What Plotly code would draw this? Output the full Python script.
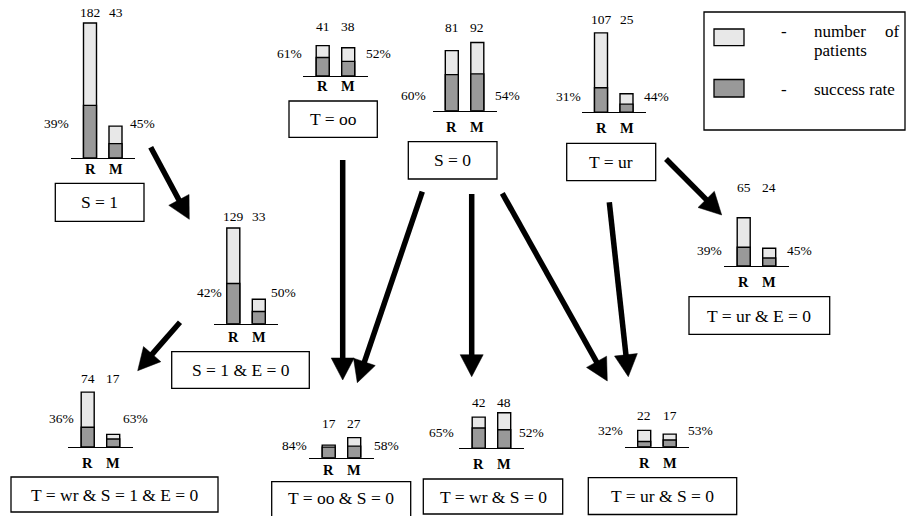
import math
import plotly.graph_objects as go

# ---------------- data ----------------
CATEGORIES = ["R", "M"]
NODE_LABELS = [
    "S = 1", "T = oo", "S = 0", "T = ur", "S = 1 & E = 0",
    "T = ur & E = 0", "T = wr & S = 1 & E = 0", "T = oo & S = 0",
    "T = wr & S = 0", "T = ur & S = 0",
]
PATIENTS_R = [182, 41, 81, 107, 129, 65, 74, 17, 42, 22]
PATIENTS_M = [43, 38, 92, 25, 33, 24, 17, 27, 48, 17]
SUCCESS_R = [39, 61, 60, 31, 42, 39, 36, 84, 65, 32]   # percent
SUCCESS_M = [45, 52, 54, 44, 50, 45, 63, 58, 52, 53]   # percent
LEGEND_LABELS = ["number of patients", "success rate"]

# ---------------- layout (pixel positions) ----------------
W, H = 906, 516
PX_PER_PATIENT = 0.742
BAR_GAP_PX = 25.5
HALF_BASE_PX = 19.3
BAR_WIDTH = 0.51

R_CENTER = [90, 322.7, 451.8, 601, 233.3, 743.7, 87.7, 328.7, 478.7, 644.2]
BASE_Y = [158, 76, 110.7, 112.3, 323.7, 266, 447, 457.7, 448.3, 446.7]
COUNT_Y = [12.7, 26.7, 27.3, 20, 216.7, 187.3, 378.3, 423.3, 402.3, 415]
CAT_Y = [169, 86, 126.7, 128.3, 336.7, 281.7, 463.3, 470, 464, 463.3]
PCT_LEFT = [(56, 124), (289.3, 54), (413.3, 95), (568.3, 96.7), (209, 292.3),
            (709.3, 250), (61, 418.3), (294.3, 445), (441, 432.7), (610.7, 430)]
PCT_RIGHT = [(142.7, 124), (378.3, 54), (507.3, 95), (656.7, 96), (283.3, 292.3),
             (799.3, 250), (135, 418.3), (386, 445), (531.7, 432.7), (700, 430)]
BOXES = [(55.3, 183.3, 144, 221.3), (289, 101, 377.3, 137.3), (408.3, 141.7, 497, 179),
         (566.7, 143.3, 655.7, 180.7), (171.7, 351.7, 309.3, 388.3),
         (689, 296.7, 829.7, 334.3), (11, 477, 218, 512), (271.7, 481.7, 410.7, 520),
         (423.3, 479, 562.7, 514), (588.3, 477.7, 736.7, 514.5)]
ARROWS = [((150.7, 147.3), (189.3, 219.3)), ((180, 322.3), (137.7, 370.7)),
          ((342.7, 160), (342.7, 380)), ((422.3, 191.7), (357.3, 382.7)),
          ((471.7, 194), (471.7, 376.7)), ((502.3, 193.3), (607.3, 381)),
          ((609.3, 202.3), (628.3, 376.7)), ((666, 159), (721.7, 215))]

LIGHT = "#e8e8e8"
DARK = "#999999"
FONT = "Liberation Serif"


def px(x):
    return x / W


def py(y):
    return 1 - y / H


def f(size):
    return dict(family=FONT, size=size, color="black")


fig = go.Figure()
layout = dict(
    width=W, height=H, margin=dict(l=0, r=0, t=0, b=0),
    paper_bgcolor="white", plot_bgcolor="rgba(0,0,0,0)",
    barmode="overlay", showlegend=False,
    font=f(14),
)
annotations = []
shapes = []

for i in range(len(NODE_LABELS)):
    sfx = "" if i == 0 else str(i + 1)
    counts = [PATIENTS_R[i], PATIENTS_M[i]]
    success = [PATIENTS_R[i] * SUCCESS_R[i] / 100, PATIENTS_M[i] * SUCCESS_M[i] / 100]
    fig.add_trace(go.Bar(x=CATEGORIES, y=counts, width=BAR_WIDTH,
                         marker=dict(color=LIGHT, line=dict(color="black", width=1.4)),
                         xaxis="x" + sfx, yaxis="y" + sfx, hoverinfo="skip",
                         name=LEGEND_LABELS[0]))
    fig.add_trace(go.Bar(x=CATEGORIES, y=success, width=BAR_WIDTH,
                         marker=dict(color=DARK, line=dict(color="black", width=1.4)),
                         xaxis="x" + sfx, yaxis="y" + sfx, hoverinfo="skip",
                         name=LEGEND_LABELS[1]))
    rc = R_CENTER[i]
    x0 = rc - HALF_BASE_PX
    x1 = rc + BAR_GAP_PX + HALF_BASE_PX
    ymax = max(counts) + 3
    ybot = py(BASE_Y[i])
    ytop = ybot + ymax * PX_PER_PATIENT / H
    layout["xaxis" + sfx] = dict(
        domain=[px(x0), px(x1)], type="category",
        range=[-HALF_BASE_PX / BAR_GAP_PX, 1 + HALF_BASE_PX / BAR_GAP_PX],
        anchor="y" + sfx, showline=True, linecolor="black", linewidth=1.4,
        showgrid=False, zeroline=False, showticklabels=False, ticks="", fixedrange=True)
    layout["yaxis" + sfx] = dict(domain=[ybot, ytop], range=[0, ymax], anchor="x" + sfx,
                                 visible=False, fixedrange=True)
    for k, cat in enumerate(CATEGORIES):
        annotations.append(dict(x=cat, xref="x" + sfx, y=py(COUNT_Y[i]), yref="paper",
                                text=str(counts[k]), showarrow=False,
                                font=f(13.5), xanchor="center", yanchor="middle"))
        annotations.append(dict(x=cat, xref="x" + sfx, y=py(CAT_Y[i]), yref="paper",
                                text="<b>%s</b>" % cat, showarrow=False,
                                font=f(14.5), xanchor="center", yanchor="middle"))
    annotations.append(dict(x=px(PCT_LEFT[i][0]), y=py(PCT_LEFT[i][1]), xref="paper", yref="paper",
                            text="%d%%" % SUCCESS_R[i], showarrow=False, font=f(13.5),
                            xanchor="center", yanchor="middle"))
    annotations.append(dict(x=px(PCT_RIGHT[i][0]), y=py(PCT_RIGHT[i][1]), xref="paper", yref="paper",
                            text="%d%%" % SUCCESS_M[i], showarrow=False, font=f(13.5),
                            xanchor="center", yanchor="middle"))
    bx0, by0, bx1, by1 = BOXES[i]
    shapes.append(dict(type="rect", xref="paper", yref="paper",
                       x0=px(bx0), x1=px(bx1), y0=py(by1), y1=py(by0),
                       line=dict(color="black", width=1.3), fillcolor="rgba(0,0,0,0)"))
    annotations.append(dict(x=px((bx0 + bx1) / 2), y=py((by0 + min(by1, 514)) / 2),
                            xref="paper", yref="paper", text=NODE_LABELS[i], showarrow=False,
                            font=f(17.5), xanchor="center", yanchor="middle"))

HEAD_L, HEAD_W = 22, 11.5
for (sx, sy), (tx, ty) in ARROWS:
    dx, dy = tx - sx, ty - sy
    n = math.hypot(dx, dy)
    ux, uy = dx / n, dy / n
    bx, by = tx - HEAD_L * ux, ty - HEAD_L * uy
    nx, ny = -uy, ux
    shapes.append(dict(type="line", xref="paper", yref="paper",
                       x0=px(sx), y0=py(sy), x1=px(bx + 2 * ux), y1=py(by + 2 * uy),
                       line=dict(color="black", width=5.5)))
    path = "M %f %f L %f %f L %f %f Z" % (
        px(tx), py(ty), px(bx + HEAD_W * nx), py(by + HEAD_W * ny),
        px(bx - HEAD_W * nx), py(by - HEAD_W * ny))
    shapes.append(dict(type="path", xref="paper", yref="paper", path=path,
                       fillcolor="black", line=dict(color="black", width=0.5)))

shapes.append(dict(type="rect", xref="paper", yref="paper", x0=px(704), x1=px(905),
                   y0=py(130), y1=py(12), line=dict(color="black", width=1.3)))
shapes.append(dict(type="rect", xref="paper", yref="paper", x0=px(714), x1=px(744),
                   y0=py(45.7), y1=py(29), fillcolor=LIGHT, line=dict(color="black", width=1.3)))
shapes.append(dict(type="rect", xref="paper", yref="paper", x0=px(714), x1=px(744),
                   y0=py(97), y1=py(79.5), fillcolor=DARK, line=dict(color="black", width=1.3)))
words = LEGEND_LABELS[0].split()
for text, x, y in [("-", 784, 31.7), (words[0], 811.5, 31.7), (words[1], 882.5, 31.7),
                   (words[2], 811.5, 50.5), ("-", 784, 89.5), (LEGEND_LABELS[1], 811.5, 89.5)]:
    annotations.append(dict(x=px(x), y=py(y), xref="paper", yref="paper", text=text,
                            showarrow=False, font=f(17),
                            xanchor="center" if text == "-" else "left", yanchor="middle"))

layout["annotations"] = annotations
layout["shapes"] = shapes
fig.update_layout(**layout)
fig.write_html("out.html", config={"displayModeBar": False},
               post_script="document.body.style.margin='0';")
